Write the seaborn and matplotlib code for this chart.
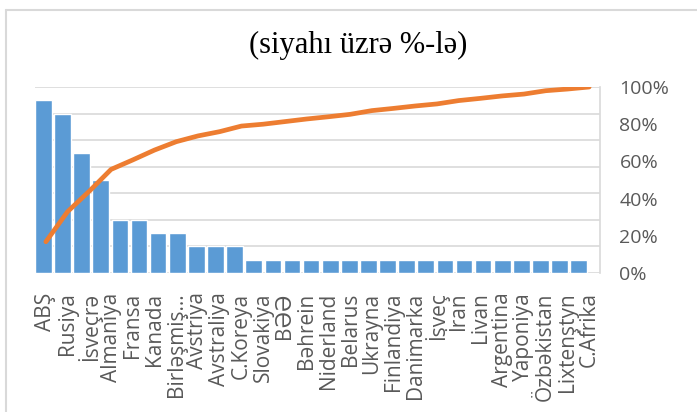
import matplotlib
matplotlib.use("Agg")
import matplotlib.pyplot as plt
from matplotlib.lines import Line2D
from matplotlib import font_manager
import numpy as np
import pandas as pd
import seaborn as sns

# ---- data ----
categories = ["ABŞ", "Rusiya", "İsveçrə", "Almaniya", "Fransa", "Kanada",
              "Birləşmiş...", "Avstriya", "Avstraliya", "C.Koreya", "Slovakiya",
              "BƏƏ", "Bəhrein", "Niderland", "Belarus", "Ukrayna", "Finlandiya",
              "Danimarka", "İsveç", "İran", "Livan", "Argentina", "Yaponiya",
              "Özbəkistan", "Lixtenştyn", "C.Afrika"]
cumulative_pct = [16.8, 33.0, 44.0, 55.7, 60.8, 66.1, 70.6, 73.7, 76.0, 79.0,
                  80.0, 81.4, 82.8, 84.0, 85.3, 87.3, 88.5, 89.8, 90.9, 92.7,
                  93.9, 95.2, 96.2, 98.0, 98.9, 100.0]
bar_values = [13, 12, 9, 7, 4, 4, 3, 3, 2, 2, 2,
              1, 1, 1, 1, 1, 1, 1, 1, 1, 1, 1, 1, 1, 1, 1, 1, 1, 1]
pct_ticks = [0, 20, 40, 60, 80, 100]
pct_labels = ["0%", "20%", "40%", "60%", "80%", "100%"]
title = "(siyahı üzrə %-lə)"

sns.set_theme(style="white")
plt.rcParams['font.family'] = ['Open Sans', 'DejaVu Sans']

names = {f.name for f in font_manager.fontManager.ttflist}
narrow = [n for n in ["Liberation Sans Narrow", "DejaVu Sans Condensed"] if n in names]
xlab_family = (narrow[:1] or ["Open Sans"]) + ["DejaVu Sans"]
xlab_size = 17 if narrow else 15

W, H = 697, 412
fig = plt.figure(figsize=(W / 100, H / 100), dpi=100)
fig.patch.set_facecolor("white")

left, right, top, bottom = 35, 600, 87, 273
rect = [left / W, 1 - bottom / H, (right - left) / W, (bottom - top) / H]

# bars axis
axb = fig.add_axes(rect)
bar_df = pd.DataFrame({"slot": [str(i) for i in range(len(bar_values))],
                       "value": bar_values})
sns.barplot(data=bar_df, x="slot", y="value", color="#5B9BD5", width=0.87,
            saturation=1, ax=axb, zorder=2)
axb.set_xlim(-0.44, 29.11)
axb.set_ylim(0, 14)
axb.set_yticks(np.arange(0, 15, 2))
axb.yaxis.grid(True, color="#D9D9D9", linewidth=1.2, zorder=0)
axb.set_axisbelow(True)
axb.tick_params(left=False, bottom=False, labelleft=False, labelbottom=False)
axb.set_xlabel("")
axb.set_ylabel("")
for s in ["left", "top", "bottom"]:
    axb.spines[s].set_visible(False)
axb.spines["right"].set_color("#D9D9D9")
axb.spines["right"].set_linewidth(1.2)

# line axis
axl = fig.add_axes(rect, frameon=False)
idx = np.arange(len(categories))
sns.lineplot(x=idx, y=cumulative_pct, color="#ED7D31", linewidth=3.4, ax=axl,
             solid_capstyle="round")
axl.set_xlim(-0.5, len(categories) - 0.5)
axl.set_ylim(0, 100)
axl.set_xticks(idx)
axl.set_xticklabels(categories, rotation=90, fontsize=xlab_size, color="#595959",
                    ha="center", va="top", family=xlab_family)
axl.yaxis.tick_right()
axl.set_yticks(pct_ticks)
axl.set_yticklabels(pct_labels, fontsize=14, color="#595959")
axl.tick_params(axis="x", length=0, pad=14)
axl.tick_params(axis="y", length=0, pad=14, left=False, right=False)
axl.set_xlabel("")
axl.set_ylabel("")
axl.grid(False)

fig.text(358 / W, 1 - 45 / H, title, ha="center", va="center",
         fontsize=22, family=["Liberation Serif", "DejaVu Serif"], color="#000000")

# chart frame
fig.add_artist(Line2D([5.5 / W, 5.5 / W], [0, 1 - 10 / H], color="#D9D9D9", lw=1.5,
                      transform=fig.transFigure))
fig.add_artist(Line2D([5.5 / W, 1], [1 - 10 / H, 1 - 10 / H], color="#D9D9D9", lw=1.5,
                      transform=fig.transFigure))

fig.savefig("out.png", dpi=100, facecolor="white")
